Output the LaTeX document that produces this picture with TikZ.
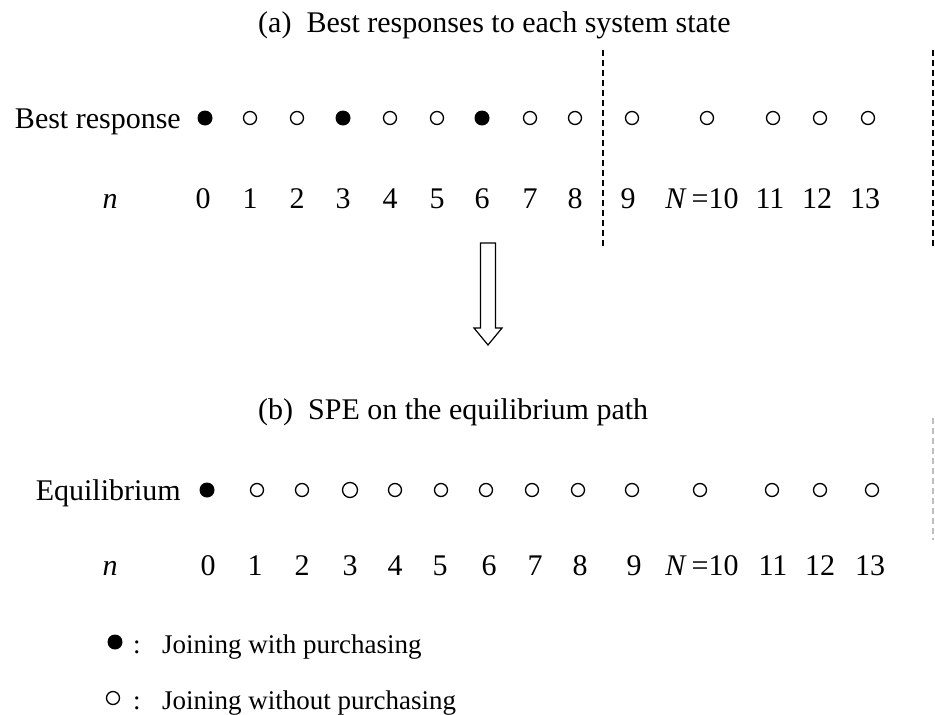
\documentclass[tikz,border=0pt]{standalone}
\usepackage{fontspec}
\setmainfont{Liberation Serif}
\usetikzlibrary{
    positioning
}

\tikzset{
    buy/.style={circle, fill=black, inner sep=0pt, minimum size=15pt},
    nobuy/.style={circle, draw=black, line width=1.3pt, inner sep=0pt, minimum size=13pt},
    lbl/.style={font=\fontsize{30}{36}\selectfont, inner sep=0pt, anchor=base},
    keytext/.style={font=\fontsize{27}{32}\selectfont, inner sep=0pt, anchor=base west},
    cutline/.style={line width=1.4pt, dash pattern=on 6pt off 4pt}
}

\begin{document}
\begin{tikzpicture}[x=1pt, y=-1pt]
    \useasboundingbox (0,0) rectangle (935,715);

    % (a) best responses
    \node[lbl, anchor=base west] (titlea) at (258,32) {(a)\ \ Best responses to each system state};
    \node[lbl, anchor=base east] (bestlbl) at (181,128) {Best response};
    \foreach \i/\x/\s in {0/205/buy, 1/250/nobuy, 2/297/nobuy, 3/343/buy, 4/390/nobuy,
        5/437/nobuy, 6/482/buy, 7/530/nobuy, 8/575/nobuy, 9/632/nobuy,
        10/707/nobuy, 11/773/nobuy, 12/820/nobuy, 13/868/nobuy}
        \node[\s] (a\i) at (\x,118) {};
    \node[lbl] (na) at (110,208) {\textit{n}};
    \foreach \i/\x in {0/203, 1/250, 2/297, 3/343, 4/390, 5/437, 6/482, 7/530,
        8/575, 9/628, 11/770, 12/817, 13/865}
        \node[lbl] (na\i) at (\x,208) {\i};
    \node[lbl] (na10) at (702,208) {\textit{N}\,=10};

    % cut lines
    \coordinate (cuta1) at (603,50);
    \coordinate (cuta2) at (603,247);
    \coordinate (cutb1) at (933,50);
    \coordinate (cutb2) at (933,247);
    \draw[cutline] (cuta1) -- (cuta2);
    \draw[cutline] (cutb1) -- (cutb2);
    \coordinate (cutc1) at (933,418);
    \coordinate (cutc2) at (933,540);
    \draw[cutline, black!25] (cutc1) -- (cutc2);

    % hollow arrow
    \draw[line width=1.2pt, line join=miter] (480.5,243) -- ++(15,0) -- ++(0,85) -- ++(6.5,0)
        -- ++(-14,17) -- ++(-14,-17) -- ++(6.5,0) -- cycle;

    % (b) equilibrium path
    \node[lbl, anchor=base west] (titleb) at (258,419) {(b)\ \ SPE on the equilibrium path};
    \node[lbl, anchor=base east] (eqlbl) at (181,500) {Equilibrium};
    \foreach \i/\x/\s in {0/207/buy, 1/257/nobuy, 2/302/nobuy, 4/395/nobuy,
        5/441/nobuy, 6/486/nobuy, 7/532/nobuy, 8/578/nobuy, 9/632/nobuy,
        10/700/nobuy, 11/772/nobuy, 12/820/nobuy, 13/872/nobuy}
        \node[\s] (b\i) at (\x,490) {};
    \node[nobuy, minimum size=15pt] (b3) at (350,490) {};
    \node[lbl] (nb) at (110,575) {\textit{n}};
    \foreach \i/\x in {0/208, 1/255, 2/302, 3/350, 4/395, 5/440, 6/489, 7/535,
        8/580, 9/634, 11/773, 12/820, 13/870}
        \node[lbl] (nb\i) at (\x,575) {\i};
    \node[lbl] (nb10) at (702,575) {\textit{N}\,=10};

    % key
    \node[buy] (keybuy) at (115,642) {};
    \node[keytext] (colbuy) at (133,653) {:};
    \node[keytext] (txtbuy) at (162,653) {Joining with purchasing};
    \node[nobuy] (keynobuy) at (113,698) {};
    \node[keytext] (colnobuy) at (133,709) {:};
    \node[keytext] (txtnobuy) at (162,709) {Joining without purchasing};

\end{tikzpicture}
\end{document}
